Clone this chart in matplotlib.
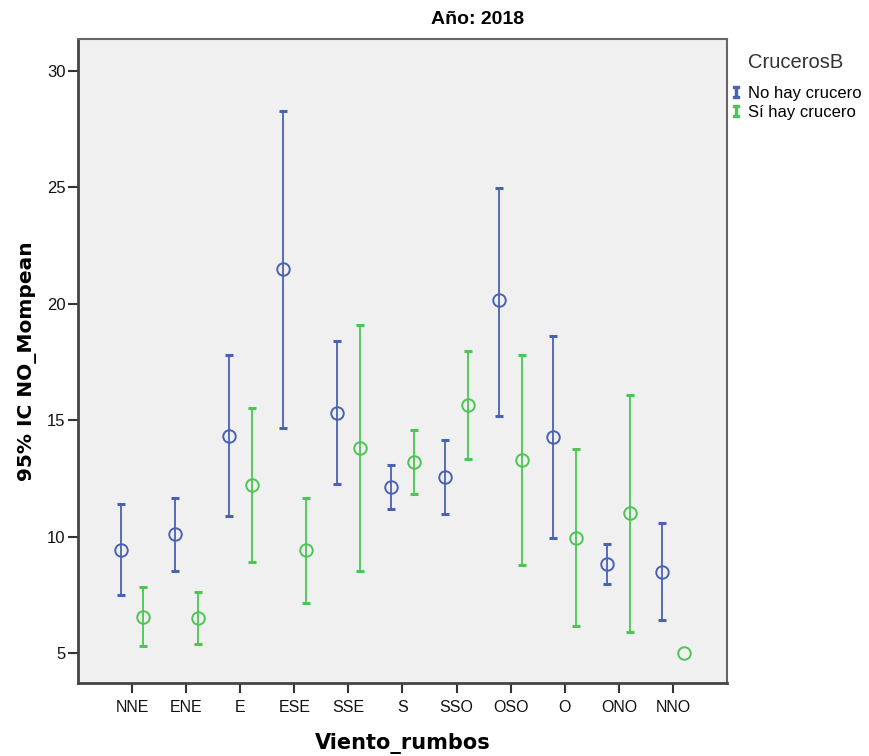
import matplotlib.pyplot as plt
from matplotlib.lines import Line2D

categories = ["NNE", "ENE", "E", "ESE", "SSE", "S", "SSO", "OSO", "O", "ONO", "NNO"]

# No hay crucero
no_mean = [9.44, 10.12, 14.33, 21.50, 15.33, 12.15, 12.56, 20.17, 14.29, 8.84, 8.51]
no_low = [7.51, 8.54, 10.90, 14.69, 12.26, 11.20, 11.00, 15.19, 9.96, 8.00, 6.42]
no_high = [11.42, 11.69, 17.81, 28.28, 18.41, 13.10, 14.15, 24.98, 18.63, 9.69, 10.61]

# Sí hay crucero
si_mean = [6.58, 6.54, 12.23, 9.44, 13.81, 13.22, 15.65, 13.29, 9.97, 11.02, 5.03]
si_low = [5.33, 5.42, 8.94, 7.18, 8.54, 11.85, 13.36, 8.80, 6.17, 5.92, 5.03]
si_high = [7.85, 7.64, 15.52, 11.69, 19.10, 14.59, 17.97, 17.80, 13.79, 16.11, 5.03]

blue = "#4a62b4"
green = "#4cc552"

fig = plt.figure(figsize=(8.7, 7.56), dpi=100)
ax = fig.add_axes([78/870, 1-683/756, (727-78)/870, (683-39)/756])
ax.set_facecolor("#f0f0f0")

x = list(range(1, len(categories) + 1))
off = 0.21

def draw(xs, mean, low, high, color):
    # only draw an interval where there is one (NNO with one case has none)
    keep = [i for i in range(len(xs)) if high[i] > low[i]]
    ex = [xs[i] for i in keep]
    ey = [mean[i] for i in keep]
    err = [[mean[i] - low[i] for i in keep], [high[i] - mean[i] for i in keep]]
    ax.errorbar(ex, ey, yerr=err, fmt="none", ecolor=color,
                elinewidth=1.3, capsize=3, capthick=2.2, zorder=3)
    ax.plot(xs, mean, "o", mfc="none", mec=color, ms=9, mew=1.4, zorder=4)

draw([i - off for i in x], no_mean, no_low, no_high, blue)
draw([i + off for i in x], si_mean, si_low, si_high, green)

ax.set_xlim(0, 12)
ax.set_ylim(3.73, 31.37)
ax.set_xticks(x)
ax.set_xticklabels(categories, fontsize=11.5, family="Liberation Sans")
ax.set_yticks([5, 10, 15, 20, 25, 30])
ax.set_yticklabels(["5", "10", "15", "20", "25", "30"], fontsize=12, family="Liberation Sans")
ax.tick_params(direction="out", length=7, width=1.5, color="#333333", labelcolor="#111111")
ax.tick_params(axis="x", pad=5)
ax.tick_params(axis="y", pad=2)

for s in ["left", "bottom"]:
    ax.spines[s].set_linewidth(2)
    ax.spines[s].set_color("#444444")
for s in ["top", "right"]:
    ax.spines[s].set_linewidth(1.5)
    ax.spines[s].set_color("#666666")

ax.set_xlabel("Viento_rumbos", fontsize=15, fontweight="bold", labelpad=13)
ax.set_ylabel("95% IC NO_Mompean", fontsize=14.5, fontweight="bold", labelpad=7)
fig.text(478/870, 1-20/756, "Año: 2018", fontsize=14, fontweight="bold",
         family="Liberation Sans", ha="center", va="center")

handles = [Line2D([], [], ls="none", marker="$\\mathtt{I}$", color=blue, ms=8),
           Line2D([], [], ls="none", marker="$\\mathtt{I}$", color=green, ms=8)]
leg = fig.legend(handles, ["No hay crucero", "Sí hay crucero"], title="CrucerosB",
                 loc="upper left", bbox_to_anchor=(715/870, 1-38/756), frameon=False,
                 prop={"family": "Liberation Sans", "size": 12}, handlelength=0.7,
                 handletextpad=0.4, labelspacing=0.25)
leg.get_title().set_fontsize(14.5)
leg.get_title().set_family("Liberation Sans")
leg.get_title().set_color("#333333")
leg._legend_box.sep = 10

fig.savefig("out.png", dpi=100)
